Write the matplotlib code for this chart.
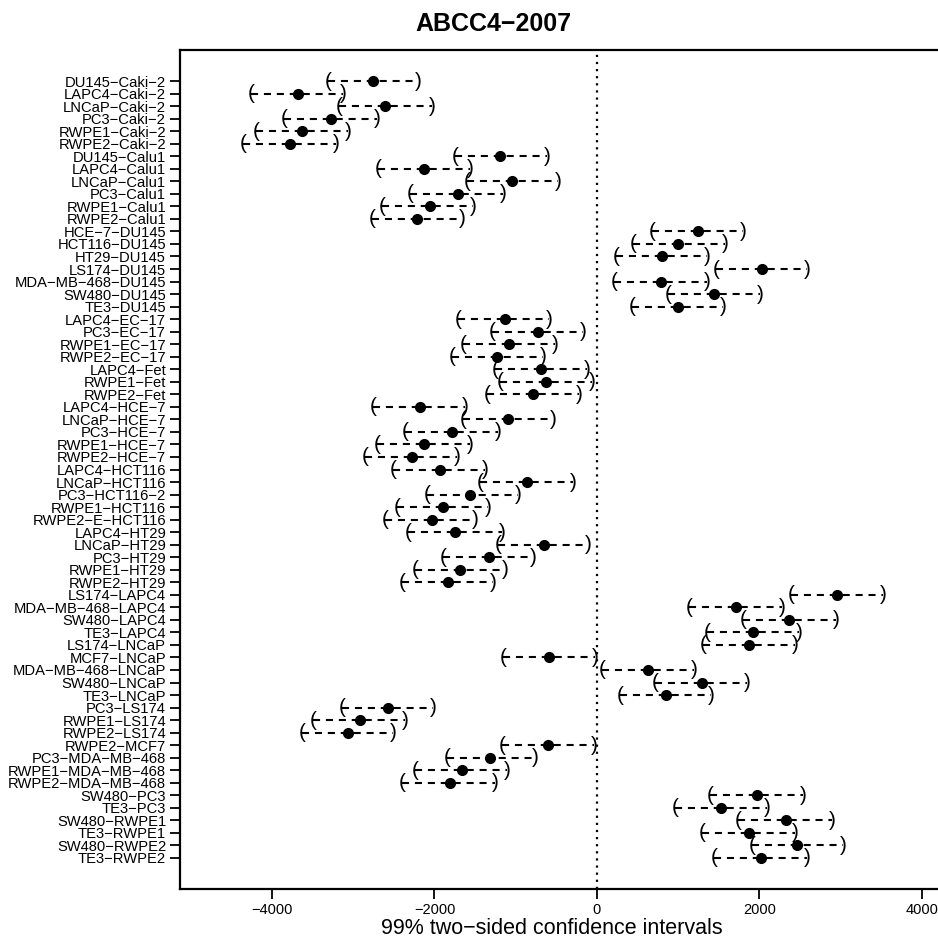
import matplotlib.pyplot as plt
import numpy as np

plt.rcParams['font.family'] = ['Liberation Sans', 'DejaVu Sans']

title = 'ABCC4-2007'
xlabel = '99% two-sided confidence intervals'

labels = [
    'DU145-Caki-2', 'LAPC4-Caki-2', 'LNCaP-Caki-2', 'PC3-Caki-2', 'RWPE1-Caki-2', 'RWPE2-Caki-2',
    'DU145-Calu1', 'LAPC4-Calu1', 'LNCaP-Calu1', 'PC3-Calu1', 'RWPE1-Calu1', 'RWPE2-Calu1',
    'HCE-7-DU145', 'HCT116-DU145', 'HT29-DU145', 'LS174-DU145', 'MDA-MB-468-DU145',
    'SW480-DU145', 'TE3-DU145',
    'LAPC4-EC-17', 'PC3-EC-17', 'RWPE1-EC-17', 'RWPE2-EC-17',
    'LAPC4-Fet', 'RWPE1-Fet', 'RWPE2-Fet',
    'LAPC4-HCE-7', 'LNCaP-HCE-7', 'PC3-HCE-7', 'RWPE1-HCE-7', 'RWPE2-HCE-7',
    'LAPC4-HCT116', 'LNCaP-HCT116', 'PC3-HCT116-2', 'RWPE1-HCT116', 'RWPE2-E-HCT116',
    'LAPC4-HT29', 'LNCaP-HT29', 'PC3-HT29', 'RWPE1-HT29', 'RWPE2-HT29',
    'LS174-LAPC4', 'MDA-MB-468-LAPC4', 'SW480-LAPC4', 'TE3-LAPC4',
    'LS174-LNCaP', 'MCF7-LNCaP', 'MDA-MB-468-LNCaP', 'SW480-LNCaP', 'TE3-LNCaP',
    'PC3-LS174', 'RWPE1-LS174', 'RWPE2-LS174', 'RWPE2-MCF7',
    'PC3-MDA-MB-468', 'RWPE1-MDA-MB-468', 'RWPE2-MDA-MB-468',
    'SW480-PC3', 'TE3-PC3', 'SW480-RWPE1', 'TE3-RWPE1', 'SW480-RWPE2', 'TE3-RWPE2',
]

estimate = [
    -2757, -3681, -2610, -3274, -3631, -3779,
    -1194, -2130, -1046, -1711, -2056, -2216,
    1243, 997, 800, 2031, 788, 1440, 997,
    -1133, -726, -1083, -1231,
    -689, -628, -788,
    -2179, -1096, -1785, -2130, -2277,
    -1933, -862, -1563, -1896, -2031,
    -1748, -652, -1330, -1686, -1834,
    2954, 1711, 2364, 1920,
    1871, -591, 628, 1293, 849,
    -2573, -2917, -3065, -603,
    -1317, -1662, -1810,
    1970, 1526, 2327, 1871, 2462, 2019,
]

lower = [
    -3311, -4259, -3176, -3853, -4198, -4358,
    -1748, -2696, -1600, -2302, -2647, -2770,
    677, 443, 234, 1465, 209, 874, 431,
    -1711, -1293, -1650, -1785,
    -1256, -1194, -1354,
    -2757, -1650, -2364, -2708, -2856,
    -2511, -1440, -2093, -2462, -2610,
    -2327, -1219, -1896, -2240, -2400,
    2388, 1133, 1797, 1354,
    1305, -1157, 62, 714, 283,
    -3139, -3496, -3631, -1170,
    -1847, -2240, -2400,
    1391, 960, 1736, 1293, 1908, 1440,
]

upper = [
    -2203, -3127, -2031, -2708, -3065, -3213,
    -616, -1563, -480, -1157, -1526, -1662,
    1797, 1576, 1354, 2585, 1354, 2006, 1551,
    -591, -172, -517, -665,
    -123, -62, -222,
    -1625, -542, -1219, -1563, -1723,
    -1379, -295, -973, -1342, -1502,
    -1170, -111, -788, -1133, -1280,
    3521, 2277, 2942, 2487,
    2437, -25, 1194, 1847, 1403,
    -2019, -2364, -2511, -37,
    -763, -1108, -1256,
    2536, 2093, 2893, 2437, 3028, 2585,
]

xticks = [-4000, -2000, 0, 2000, 4000]

W, H = 938, 942
fig = plt.figure(figsize=(W / 100, H / 100), dpi=100)
ax = fig.add_axes([180 / W, 1 - 889 / H, 1 - 180 / W, (889 - 50) / H])

y = np.arange(1, len(labels) + 1)
ax.axvline(0, color='black', linestyle=(0, (1, 2.2)), linewidth=1.6, zorder=1)

for yi, lo, est, hi in zip(y, lower, estimate, upper):
    ax.plot([lo, hi], [yi, yi], color='black', linewidth=1.5,
            linestyle=(0, (3.4, 2.8)), zorder=2)
    ax.text(lo, yi, '(', ha='center', va='center', fontsize=15, zorder=3)
    ax.text(hi, yi, ')', ha='center', va='center', fontsize=15, zorder=3)
ax.plot(estimate, y, 'o', color='black', markersize=7, zorder=4)

ax.set_xlim(-5132, 4197)
ax.set_ylim(len(labels) + 2.48, 1 - 2.48)
ax.set_yticks(y)
ax.set_yticklabels([s.replace('-', '\u2212') for s in labels], fontsize=10.6)
ax.set_xticks(xticks)
ax.set_xticklabels([str(t).replace('-', '\u2212') for t in xticks], fontsize=10.5)
ax.tick_params(axis='both', direction='out', length=7, width=1.3, pad=3)

for side in ['left', 'bottom', 'top']:
    ax.spines[side].set_linewidth(1.6)
ax.spines['right'].set_visible(False)

fig.text(493 / W, 1 - 24 / H, title.replace('-', '\u2212'), ha='center', va='center',
         fontsize=18, fontweight='bold')
fig.text(552 / W, 1 - 929 / H, xlabel.replace('-', '\u2212'), ha='center', va='center',
         fontsize=15.5)

fig.savefig('out.png', dpi=100)
